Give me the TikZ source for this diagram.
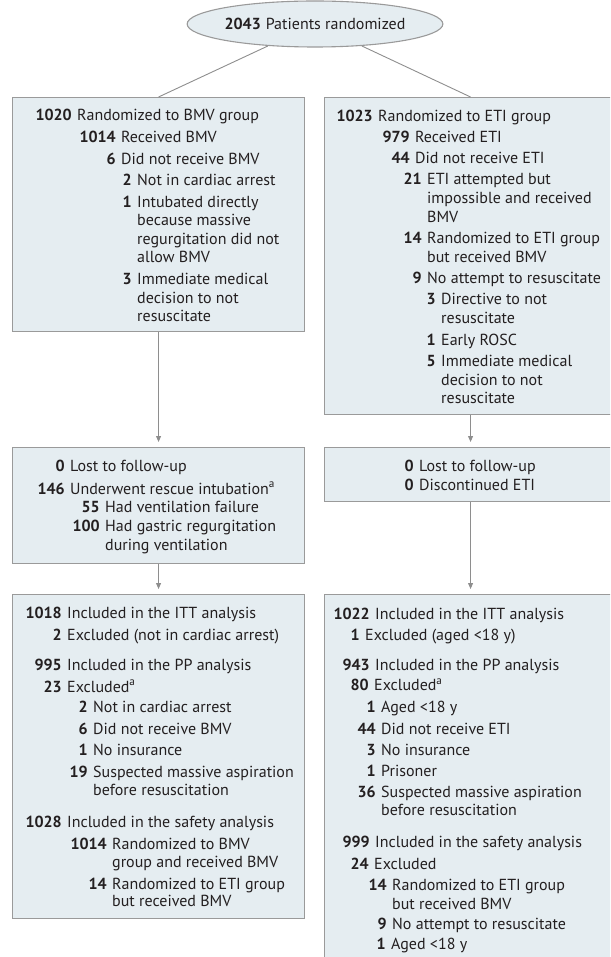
\documentclass[tikz,border=0pt]{standalone}
\usepackage{fontspec}
\setmainfont{PT Sans}
\usetikzlibrary{shapes.geometric,arrows.meta}
\definecolor{boxfill}{HTML}{E5EDF1}
\definecolor{boxline}{HTML}{9A9A9A}
\definecolor{connc}{HTML}{8E8E8E}
\definecolor{ink}{HTML}{231F20}
\tikzset{
  box/.style={rectangle, draw=boxline, line width=1.1pt, fill=boxfill, inner sep=0pt, anchor=north west},
  numtxt/.style={anchor=base east, inner sep=0pt, text=ink, font=\fontsize{16}{19}\selectfont\bfseries},
  bodytxt/.style={anchor=base west, inner sep=0pt, text=ink, font=\fontsize{16}{19}\selectfont},
  conn/.style={draw=connc, line width=0.9pt},
  arr/.style={conn, -{Triangle[length=6pt,width=5pt]}, shorten >=5pt},
}
% #1 name, #2 text x, #3 baseline y, #4 number, #5 text
\newcommand\itm[5]{%
  \node[numtxt] (#1n) at ({#2-5},#3) {#4};
  \node[bodytxt] (#1t) at (#2,#3) {#5};}
\newcommand\cnt[4]{\node[bodytxt] (#1) at (#2,#3) {#4};}
\begin{document}
\begin{tikzpicture}[x=1pt,y=-1pt]
\useasboundingbox (0,0) rectangle (610,957);
\clip (0,0) rectangle (610,957);

% root
\node[ellipse, draw=boxline, fill=boxfill, line width=1.1pt, minimum width=238pt, minimum height=46pt, inner sep=0pt,
      text=ink, font=\fontsize{16}{19}\selectfont] (root) at (315,24) {\textbf{2043}\hspace{5pt}Patients randomized};

% boxes
\node[box, minimum width=292pt, minimum height=234pt] (b1) at (12,97) {};
\node[box, minimum width=292pt, minimum height=317pt] (r1) at (324,97) {};
\node[box, minimum width=292pt, minimum height=116pt] (b2) at (12,447) {};
\node[box, minimum width=292pt, minimum height=54pt] (r2) at (324,447) {};
\node[box, minimum width=292pt, minimum height=324pt] (b3) at (12,594) {};
\node[box, minimum width=292pt, minimum height=376pt] (r3) at (324,594) {};

% connectors
\draw[conn] (root) -- (b1.north);
\draw[conn] (root) -- (r1.north);
\draw[arr] (b1.south) -- (b2.north);
\draw[arr] (r1.south) -- (r2.north);
\draw[arr] (b2.south) -- (b3.north);
\draw[arr] (r2.south) -- (r3.north);

% left box 1
\itm{a1}{77}{121}{1020}{Randomized to BMV group}
\itm{a2}{121}{143}{1014}{Received BMV}
\itm{a3}{121}{164.5}{6}{Did not receive BMV}
\itm{a4}{137}{186}{2}{Not in cardiac arrest}
\itm{a5}{137}{207.5}{1}{Intubated directly}
\cnt{a5b}{137}{226}{because massive}
\cnt{a5c}{137}{244.5}{regurgitation did not}
\cnt{a5d}{137}{263}{allow BMV}
\itm{a6}{137}{284.5}{3}{Immediate medical}
\cnt{a6b}{137}{303}{decision to not}
\cnt{a6c}{137}{321}{resuscitate}

% right box 1
\itm{c1}{378}{122}{1023}{Randomized to ETI group}
\itm{c2}{415}{143}{979}{Received ETI}
\itm{c3}{415}{163.5}{44}{Did not receive ETI}
\itm{c4}{427}{185}{21}{ETI attempted but}
\cnt{c4b}{427}{203.5}{impossible and received}
\cnt{c4c}{427}{222.5}{BMV}
\itm{c5}{427}{243.5}{14}{Randomized to ETI group}
\cnt{c5b}{427}{262.5}{but received BMV}
\itm{c6}{427}{283.5}{9}{No attempt to resuscitate}
\itm{c7}{441}{305}{3}{Directive to not}
\cnt{c7b}{441}{323.5}{resuscitate}
\itm{c8}{441}{345}{1}{Early ROSC}
\itm{c9}{441}{366}{5}{Immediate medical}
\cnt{c9b}{441}{385}{decision to not}
\cnt{c9c}{441}{403.5}{resuscitate}

% left box 2
\itm{d1}{70}{471}{0}{Lost to follow-up}
\itm{d2}{70}{494}{146}{Underwent rescue intubation\textsuperscript{a}}
\itm{d3}{105}{512.5}{55}{Had ventilation failure}
\itm{d4}{105}{531.5}{100}{Had gastric regurgitation}
\cnt{d4b}{105}{550.5}{during ventilation}

% right box 2
\itm{e1}{419}{471}{0}{Lost to follow-up}
\itm{e2}{419}{490.5}{0}{Discontinued ETI}

% left box 3
\itm{f1}{67}{618}{1018}{Included in the ITT analysis}
\itm{f2}{67}{640.5}{2}{Excluded (not in cardiac arrest)}
\itm{f3}{67}{670.5}{995}{Included in the PP analysis}
\itm{f4}{67}{692}{23}{Excluded\textsuperscript{a}}
\itm{f5}{93}{712}{2}{Not in cardiac arrest}
\itm{f6}{93}{734}{6}{Did not receive BMV}
\itm{f7}{93}{755.5}{1}{No insurance}
\itm{f8}{93}{777}{19}{Suspected massive aspiration}
\cnt{f8b}{93}{795.5}{before resuscitation}
\itm{f9}{67}{827}{1028}{Included in the safety analysis}
\itm{f10}{112}{849.5}{1014}{Randomized to BMV}
\cnt{f10b}{112}{867}{group and received BMV}
\itm{f11}{112}{889}{14}{Randomized to ETI group}
\cnt{f11b}{112}{906.5}{but received BMV}

% right box 3
\itm{g1}{375}{619}{1022}{Included in the ITT analysis}
\itm{g2}{365}{640.5}{1}{Excluded (aged <18 y)}
\itm{g3}{375}{670.5}{943}{Included in the PP analysis}
\itm{g4}{374}{690.5}{80}{Excluded\textsuperscript{a}}
\itm{g5}{381}{712}{1}{Aged <18 y}
\itm{g6}{381}{734}{44}{Did not receive ETI}
\itm{g7}{381}{755.5}{3}{No insurance}
\itm{g8}{381}{776}{1}{Prisoner}
\itm{g9}{381}{797}{36}{Suspected massive aspiration}
\cnt{g9b}{381}{815.5}{before resuscitation}
\itm{g10}{375}{847}{999}{Included in the safety analysis}
\itm{g11}{374}{869}{24}{Excluded}
\itm{g12}{392}{890.5}{14}{Randomized to ETI group}
\cnt{g12b}{392}{909}{but received BMV}
\itm{g13}{392}{929}{9}{No attempt to resuscitate}
\itm{g14}{391}{949}{1}{Aged <18 y}
\end{tikzpicture}
\end{document}
